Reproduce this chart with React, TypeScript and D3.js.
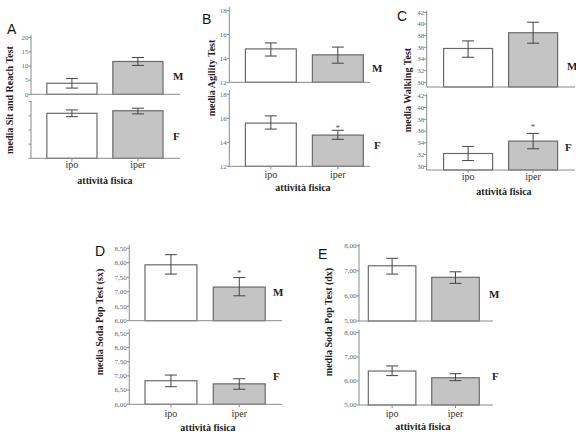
import React from "react";
import * as d3 from "d3";

const categories = ["ipo", "iper"];

// Panel A – Sit and Reach
const sitReachM = [3.9, 11.6];
const sitReachMErr = [[2.2, 5.6], [10.2, 13.0]];
const sitReachF = [15.9, 16.8];
const sitReachFErr = [[14.7, 17.1], [15.7, 17.7]];
const sitReachTicks = [0, 5, 10, 15, 20];

// Panel B – Agility
const agilityM = [14.8, 14.3];
const agilityMErr = [[14.2, 15.3], [13.6, 14.95]];
const agilityF = [15.6, 14.6];
const agilityFErr = [[15.1, 16.2], [14.25, 15.0]];
const agilityTicks = [12, 14, 16, 18];

// Panel C – Walking
const walkingM = [35.8, 38.5];
const walkingMErr = [[34.3, 37.1], [36.7, 40.3]];
const walkingF = [32.2, 34.3];
const walkingFErr = [[31.0, 33.4], [33.0, 35.6]];
const walkingTicks = [30, 32, 34, 36, 38, 40, 42];

// Panel D – Soda Pop (sx)
const sodaSxM = [7.93, 7.16];
const sodaSxMErr = [[7.61, 8.28], [6.86, 7.49]];
const sodaSxF = [6.83, 6.72];
const sodaSxFErr = [[6.62, 7.03], [6.53, 6.9]];
const sodaSxTicks = [6, 6.5, 7, 7.5, 8, 8.5];

// Panel E – Soda Pop (dx)
const sodaDxM = [7.2, 6.74];
const sodaDxMErr = [[6.87, 7.5], [6.5, 6.96]];
const sodaDxF = [6.41, 6.13];
const sodaDxFErr = [[6.22, 6.62], [6.01, 6.3]];
const sodaDxTicks = [5, 6, 7, 8];

const fmtInt = (v: number) => d3.format("d")(v);
const fmtComma = (v: number) => d3.format(".2f")(v).replace(".", ",");

type Sub = {
  values: number[];
  errs: number[][];
  domain: [number, number];
  range: [number, number];
  axisTop: number;
  ticks: number[];
  showLabels: boolean;
  sex: string;
  sexX: number;
  sexY: number;
  star: number | null;
  starY: number;
};

type Panel = {
  letter: string;
  letterX: number;
  letterY: number;
  title: string;
  titleX: number;
  titleY: number;
  x0: number;
  step: number;
  padIn: number;
  padOut: number;
  lineEnd: number;
  fmt: (v: number) => string;
  subs: Sub[];
  catY: number;
  xTitleX: number;
  xTitleY: number;
};

const panels: Panel[] = [
  {
    letter: "A", letterX: 7, letterY: 34,
    title: "media Sit and Reach Test", titleX: 12.5, titleY: 100,
    x0: 31, step: 66, padIn: 0.24, padOut: 0.24, lineEnd: 180, fmt: fmtInt,
    catY: 168, xTitleX: 105, xTitleY: 184,
    subs: [
      { values: sitReachM, errs: sitReachMErr, domain: [0, 20], range: [94.3, 37.7], axisTop: 35, ticks: sitReachTicks, showLabels: true, sex: "M", sexX: 173, sexY: 80, star: null, starY: 0 },
      { values: sitReachF, errs: sitReachFErr, domain: [0, 20], range: [158.3, 101.7], axisTop: 101, ticks: sitReachTicks, showLabels: false, sex: "F", sexX: 173, sexY: 140, star: null, starY: 0 },
    ],
  },
  {
    letter: "B", letterX: 202, letterY: 24,
    title: "media Agility Test", titleX: 214.5, titleY: 78,
    x0: 229.3, step: 67, padIn: 0.24, padOut: 0.24, lineEnd: 370, fmt: fmtInt,
    catY: 178, xTitleX: 303, xTitleY: 191,
    subs: [
      { values: agilityM, errs: agilityMErr, domain: [12, 18], range: [82.3, 10.7], axisTop: 7, ticks: agilityTicks, showLabels: true, sex: "M", sexX: 372, sexY: 71.5, star: null, starY: 0 },
      { values: agilityF, errs: agilityFErr, domain: [12, 18], range: [166.3, 94.3], axisTop: 90, ticks: agilityTicks, showLabels: true, sex: "F", sexX: 374, sexY: 148.5, star: 1, starY: 131 },
    ],
  },
  {
    letter: "C", letterX: 397, letterY: 21,
    title: "media Walking Test", titleX: 411, titleY: 90,
    x0: 426.7, step: 65, padIn: 0.246, padOut: 0.26, lineEnd: 575, fmt: fmtInt,
    catY: 180, xTitleX: 504, xTitleY: 195,
    subs: [
      { values: walkingM, errs: walkingMErr, domain: [29.2, 42], range: [87, 12.3], axisTop: 10.7, ticks: walkingTicks, showLabels: true, sex: "M", sexX: 567, sexY: 69.5, star: null, starY: 0 },
      { values: walkingF, errs: walkingFErr, domain: [29.4, 42], range: [170, 95.7], axisTop: 94, ticks: walkingTicks, showLabels: true, sex: "F", sexX: 565, sexY: 150.5, star: 1, starY: 130 },
    ],
  },
  {
    letter: "D", letterX: 95, letterY: 256,
    title: "media Soda Pop Test (sx)", titleX: 103, titleY: 322,
    x0: 129.3, step: 68.3, padIn: 0.24, padOut: 0.23, lineEnd: 282, fmt: fmtComma,
    catY: 417, xTitleX: 208, xTitleY: 431,
    subs: [
      { values: sodaSxM, errs: sodaSxMErr, domain: [6, 8.5], range: [320.7, 248.3], axisTop: 245, ticks: sodaSxTicks, showLabels: true, sex: "M", sexX: 273, sexY: 295.5, star: 1, starY: 276 },
      { values: sodaSxF, errs: sodaSxFErr, domain: [6, 8.5], range: [404.3, 333.3], axisTop: 329.3, ticks: sodaSxTicks, showLabels: true, sex: "F", sexX: 273, sexY: 379.5, star: null, starY: 0 },
    ],
  },
  {
    letter: "E", letterX: 318, letterY: 258.5,
    title: "media Soda Pop Test (dx)", titleX: 332, titleY: 322,
    x0: 359, step: 63.4, padIn: 0.25, padOut: 0.147, lineEnd: 493, fmt: fmtComma,
    catY: 417, xTitleX: 423, xTitleY: 430,
    subs: [
      { values: sodaDxM, errs: sodaDxMErr, domain: [5, 8], range: [321, 245.7], axisTop: 244, ticks: sodaDxTicks, showLabels: true, sex: "M", sexX: 489, sexY: 298, star: null, starY: 0 },
      { values: sodaDxF, errs: sodaDxFErr, domain: [5, 8], range: [405, 332.7], axisTop: 330, ticks: sodaDxTicks, showLabels: true, sex: "F", sexX: 492, sexY: 379.5, star: null, starY: 0 },
    ],
  },
];

const barFill = ["#ffffff", "#c4c4c4"];
const barStroke = "#6a6a6a";
const axisColor = "#8a8a8a";
const serif = "'Liberation Serif', 'Times New Roman', serif";

function PanelView({ p }: { p: Panel }) {
  const n = categories.length;
  const x1 = p.x0 + p.step * (n - p.padIn + 2 * p.padOut);
  const x = d3.scaleBand<string>().domain(categories).range([p.x0, x1]).paddingInner(p.padIn).paddingOuter(p.padOut);
  const bottomBase = p.subs[p.subs.length - 1].range[0];
  return (
    <g>
      <text x={p.letterX} y={p.letterY} fontFamily="'Liberation Sans', Arial, sans-serif" fontSize={14} fill="#111">{p.letter}</text>
      <text transform={`translate(${p.titleX},${p.titleY}) rotate(-90)`} textAnchor="middle" fontFamily={serif} fontWeight="bold" fontSize={10} fill="#222">{p.title}</text>
      {p.subs.map((s, si) => {
        const y = d3.scaleLinear().domain(s.domain).range(s.range);
        const base = s.range[0];
        return (
          <g key={si}>
            {categories.map((c, i) => {
              const bx = x(c)!;
              const bw = x.bandwidth();
              const cx = bx + bw / 2;
              const top = y(s.values[i]);
              const [lo, hi] = s.errs[i];
              return (
                <g key={c}>
                  <rect x={bx} y={top} width={bw} height={base - top} fill={barFill[i]} stroke={barStroke} strokeWidth={1.2} />
                  <line x1={cx} x2={cx} y1={y(lo)} y2={y(hi)} stroke="#444" strokeWidth={1} />
                  <line x1={cx - 6} x2={cx + 6} y1={y(lo)} y2={y(lo)} stroke="#444" strokeWidth={1} />
                  <line x1={cx - 6} x2={cx + 6} y1={y(hi)} y2={y(hi)} stroke="#444" strokeWidth={1} />
                  {s.star === i && (
                    <text x={cx} y={s.starY} textAnchor="middle" fontFamily={serif} fontSize={9} fill="#555">*</text>
                  )}
                </g>
              );
            })}
            <line x1={p.x0} x2={p.lineEnd} y1={base} y2={base} stroke={axisColor} strokeWidth={1} />
            <line x1={p.x0} x2={p.x0} y1={base} y2={s.axisTop} stroke={axisColor} strokeWidth={1} />
            {s.ticks.map((t) => (
              <g key={t}>
                <line x1={p.x0 - 2.5} x2={p.x0} y1={y(t)} y2={y(t)} stroke={axisColor} strokeWidth={1} />
                {s.showLabels && (
                  <text x={p.x0 - 2.5} y={y(t)} dy="0.33em" textAnchor="end" fontFamily={serif} fontSize={7} fill="#666">{p.fmt(t)}</text>
                )}
              </g>
            ))}
            <text x={s.sexX} y={s.sexY} fontFamily={serif} fontWeight="bold" fontSize={11} fill="#222">{s.sex}</text>
          </g>
        );
      })}
      {categories.map((c) => {
        const cx = x(c)! + x.bandwidth() / 2;
        return (
          <g key={c}>
            <line x1={cx} x2={cx} y1={bottomBase} y2={bottomBase + 3} stroke={axisColor} strokeWidth={1} />
            <text x={cx} y={p.catY} textAnchor="middle" fontFamily={serif} fontSize={10} fill="#333">{c}</text>
          </g>
        );
      })}
      <text x={p.xTitleX} y={p.xTitleY} textAnchor="middle" fontFamily={serif} fontWeight="bold" fontSize={10} fill="#222">attività fisica</text>
    </g>
  );
}

export default function App() {
  return (
    <svg width={576} height={432} style={{ position: "absolute", left: 0, top: 0, background: "#fff" }}>
      <rect x={0} y={0} width={576} height={432} fill="#fff" />
      {panels.map((p) => (
        <PanelView key={p.letter} p={p} />
      ))}
    </svg>
  );
}
